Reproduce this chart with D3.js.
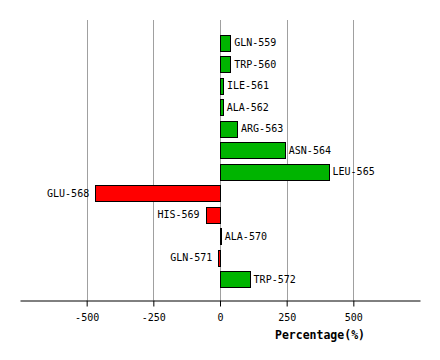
<!DOCTYPE html>
<html>
<head>
<meta charset="utf-8">
<script src="https://cdn.jsdelivr.net/npm/d3@7"></script>
<style>
  body { margin: 0; background: #fff; }
  svg { display: block; }
</style>
</head>
<body>
<svg id="chart" width="440" height="360"></svg>
<script>
const residues = ["GLN-559","TRP-560","ILE-561","ALA-562","ARG-563","ASN-564","LEU-565","GLU-568","HIS-569","ALA-570","GLN-571","TRP-572"];
const percentages = [38, 38, 11, 10, 64, 243, 407, -468, -54, 3, -6, 111];
const tickValues = [-500, -250, 0, 250, 500];
const axisTitle = "Percentage(%)";

const svg = d3.select("#chart");
const x = d3.scaleLinear().domain([-750, 750]).range([20, 420]);
const y = d3.scaleBand().domain(residues).range([32, 290]).paddingInner(0.25).paddingOuter(0.125);

// gridlines
svg.append("g").selectAll("line").data(tickValues).join("line")
  .attr("x1", d => Math.round(x(d)) + 0.5).attr("x2", d => Math.round(x(d)) + 0.5)
  .attr("y1", 20).attr("y2", 300)
  .attr("stroke", "#a0a0a0").attr("stroke-width", 1);

// bars
const data = residues.map((r, i) => ({r, v: percentages[i]}));
svg.append("g").selectAll("rect").data(data).join("rect")
  .attr("x", d => Math.round(x(Math.min(0, d.v))) + 0.5)
  .attr("y", d => Math.round(y(d.r)) + 0.5)
  .attr("width", d => Math.max(0, Math.round(Math.abs(x(d.v) - x(0)))))
  .attr("height", Math.round(y.bandwidth()))
  .attr("fill", d => d.v >= 0 ? "#00b400" : "#ff0000")
  .attr("stroke", "#000").attr("stroke-width", 1);

// labels
svg.append("g").selectAll("text").data(data).join("text")
  .attr("x", d => d.v >= 0 ? x(d.v) + 4 : x(d.v) - 6)
  .attr("y", d => y(d.r) + y.bandwidth() / 2)
  .attr("dy", "0.36em")
  .attr("text-anchor", d => d.v >= 0 ? "start" : "end")
  .attr("font-family", "DejaVu Sans Mono, monospace")
  .attr("font-size", 10)
  .attr("fill", "#000")
  .text(d => d.r);

// axis
const axis = d3.axisBottom(x).tickValues(tickValues).tickSize(6).tickSizeOuter(0).tickPadding(7)
  .tickFormat(d => String(d));
const ag = svg.append("g").attr("transform", "translate(0,300.5)").call(axis);
ag.select(".domain").attr("stroke", "#000");
ag.selectAll(".tick line").attr("stroke", "#000");
ag.selectAll(".tick text").attr("font-family", "DejaVu Sans Mono, monospace").attr("font-size", 10).attr("fill", "#000");

svg.append("text")
  .attr("x", 365).attr("y", 339)
  .attr("text-anchor", "end")
  .attr("font-family", "DejaVu Sans Mono, monospace")
  .attr("font-weight", "bold")
  .attr("font-size", 11.5)
  .text(axisTitle);
</script>
</body>
</html>
